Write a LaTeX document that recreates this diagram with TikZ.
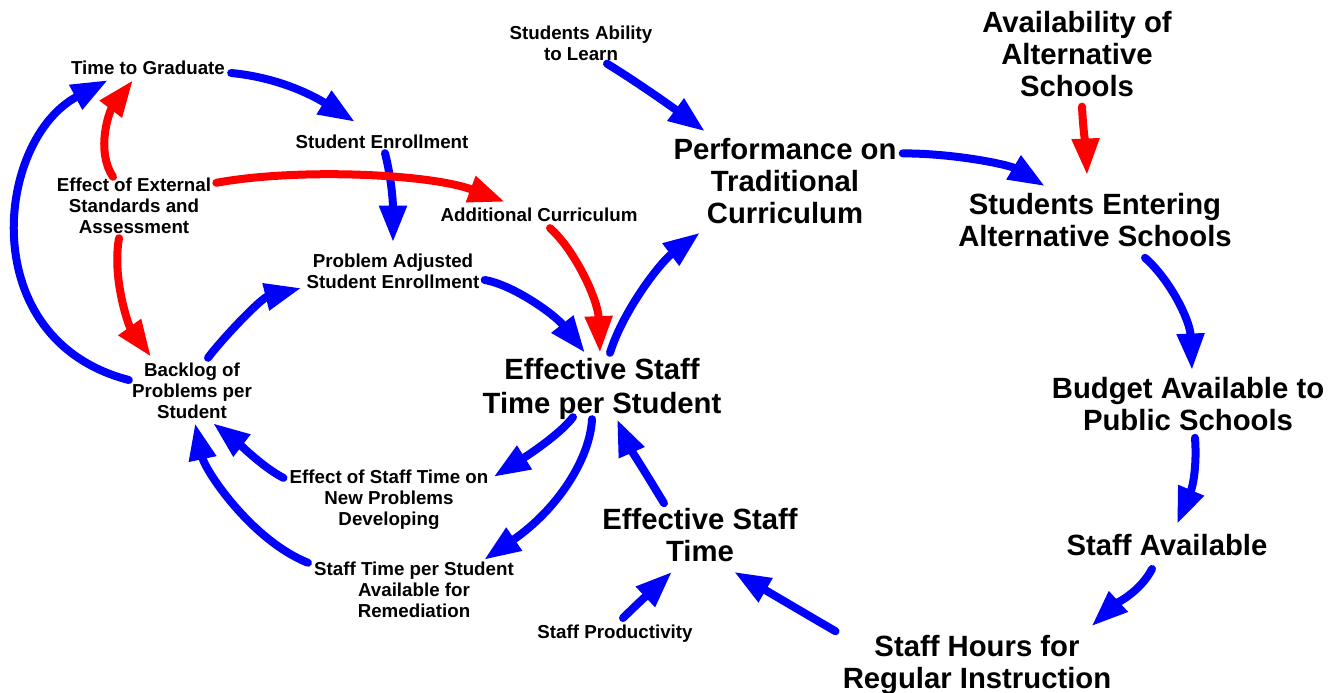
\documentclass[tikz,border=0pt]{standalone}
\usepackage{fontspec}
\setmainfont{Liberation Sans}
\usetikzlibrary{arrows.meta,calc}

\begin{document}
\begin{tikzpicture}[x=0.03cm, y=-0.03cm,
  smalltxt/.style={font=\bfseries\fontsize{16}{18}\selectfont, align=center, inner sep=0pt},
  bigtxt/.style={font=\bfseries\fontsize{25}{27}\selectfont, align=center, inner sep=0pt},
  link/.style={line width=0.24cm, line cap=round, -{Triangle[length=1.1cm,width=0.78cm]}},
  blueline/.style={link, blue},
  redline/.style={link, red}]
  \useasboundingbox (0,0) rectangle (1343,692);
  %variables, left loop
  \node[smalltxt] (tg) at (148,68) {Time to Graduate};
  \node[smalltxt] (se) at (382,142) {Student Enrollment};
  \node[smalltxt] (ext) at (134,206) {Effect of External\\Standards and\\Assessment};
  \node[smalltxt] (add) at (539,215) {Additional Curriculum};
  \node[smalltxt] (pas) at (393,271) {Problem Adjusted\\Student Enrollment};
  \node[smalltxt] (bl) at (192,391) {Backlog of\\Problems per\\Student};
  \node[smalltxt] (eff) at (389,500) {Effect of Staff Time on\\New Problems\\Developing};
  \node[smalltxt] (stps) at (414,590) {Staff Time per Student\\Available for\\Remediation};
  \node[smalltxt] (sal) at (581,43) {Students Ability\\to Learn};
  \node[smalltxt] (prod) at (615,634) {Staff Productivity};
  %variables, right loop
  \node[bigtxt] (perf) at (785,181) {Performance on\\Traditional\\Curriculum};
  \node[bigtxt] (ests) at (602,389) {Effective Staff\\[2.5pt]Time per Student};
  \node[bigtxt] (est) at (700,535) {Effective Staff\\Time};
  \node[bigtxt] (avail) at (1077,54) {Availability of\\Alternative\\Schools};
  \node[bigtxt] (sea) at (1095,220) {Students Entering\\Alternative Schools};
  \node[bigtxt] (bud) at (1188,404) {Budget Available to\\Public Schools};
  \node[bigtxt] (sa) at (1167,545) {Staff Available};
  \node[bigtxt] (shri) at (977,665) {Staff Hours for\\Regular Instruction};

  %blue links
  \draw[blueline] ($(tg.east)+(6,5)$) .. controls +(53,5) and +(-35,-22) .. ($(se.north)+(-27,-13)$);
  \draw[blueline] ($(se.south)+(3,4)$) .. controls +(8,32) and +(0,-33) .. ($(pas.north)+(0,-11)$);
  \draw[blueline] ($(pas.east)+(5,9)$) .. controls +(29,5) and +(-30,-38) .. ($(ests.north)+(-17,-5)$);
  \draw[blueline] ($(bl.north)+(16,-5)$) .. controls +(15,-20) and +(-40,10) .. ($(pas.west)+(-5,17)$);
  \draw[blueline] ($(bl.west)+(-3,-11)$) .. controls +(-155,-40) and +(-113,60) .. ($(tg.south)+(-40,5)$);
  \draw[blueline] ($(ests.north)+(8,-5)$) .. controls +(13,-42) and +(-40,30) .. ($(perf.south)+(-85,9)$);
  \draw[blueline] ($(sal.south)+(26,3)$) .. controls +(34,21) and +(-31,-23) .. ($(perf.north)+(-80,-7)$);
  \draw[blueline] ($(perf.north east)+(6,15)$) .. controls +(54,0) and +(-35,-21) .. ($(sea.north)+(-50,-7)$);
  \draw[blueline] ($(sea.south)+(50,11)$) .. controls +(25,22) and +(-2,-50) .. ($(bud.north)+(4,-7)$);
  \draw[blueline] ($(bud.south)+(7,7)$) .. controls +(2,28) and +(16,-38) .. ($(sa.north)+(10,-10)$);
  \draw[blueline] ($(sa.south)+(-15,13)$) .. controls +(-12,23) and +(25,-23) .. ($(shri.north east)+(-20,-9)$);
  \draw[blueline] ($(shri.north west)+(-7,-4)$) .. controls +(-31,-18) and +(36,21) .. ($(est.south)+(34,10)$);
  \draw[blueline] ($(prod.north)+(8,-7)$) .. controls +(15,-15) and +(-17,16) .. ($(est.south)+(-28,10)$);
  \draw[blueline] ($(est.north)+(-36,-5)$) .. controls +(-14,-23) and +(11,25) .. ($(ests.south)+(15,-1)$);
  \draw[blueline] ($(ests.south)+(-29,-3)$) .. controls +(-13,17) and +(35,-22) .. ($(eff.north east)+(5,7)$);
  \draw[blueline] ($(ests.south)+(-10,-1)$) .. controls +(-2,40) and +(73,-50) .. ($(stps.north east)+(-30,-2)$);
  \draw[blueline] ($(eff.north west)+(-6,8)$) .. controls +(-20,-10) and +(22,17) .. ($(bl.south)+(21,4)$);
  \draw[blueline] ($(stps.north west)+(-6,1)$) .. controls +(-57,-23) and +(10,47) .. ($(bl.south)+(3,4)$);

  %red links
  \draw[redline] ($(ext.north)+(-21,-1)$) .. controls +(-18,-27) and +(-23,30) .. ($(tg.south)+(-15,5)$);
  \draw[redline] ($(ext.north east)+(5,5)$) .. controls +(82,-15) and +(-75,-28) .. ($(add.north)+(-34,-6)$);
  \draw[redline] ($(ext.south)+(-15,4)$) .. controls +(-7,39) and +(-23,-32) .. ($(bl.north)+(-41,-6)$);
  \draw[redline] ($(add.south)+(11,6)$) .. controls +(25,22) and +(-2,-53) .. ($(ests.north)+(-2,-5)$);
  \draw[redline] ($(avail.south)+(5,10)$) .. controls +(1,23) and +(-1,-25) .. ($(sea.north)+(-8,-18)$);
\end{tikzpicture}
\end{document}
